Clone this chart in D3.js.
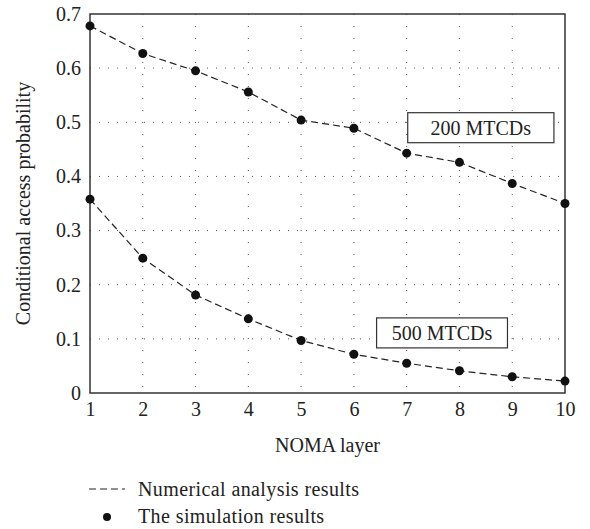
<!DOCTYPE html>
<html>
<head>
<meta charset="utf-8">
<script src="https://cdn.jsdelivr.net/npm/d3@7"></script>
<style>
  body { margin: 0; background: #fff; }
  svg text { font-family: 'Liberation Serif', 'Times New Roman', serif; fill: #222; }
</style>
</head>
<body>
<svg width="590" height="529"></svg>
<script>
const layers = [1, 2, 3, 4, 5, 6, 7, 8, 9, 10]
const mtcd200 = [0.678, 0.627, 0.595, 0.556, 0.504, 0.489, 0.443, 0.426, 0.387, 0.350]
const mtcd500 = [0.358, 0.249, 0.181, 0.137, 0.097, 0.0715, 0.055, 0.041, 0.030, 0.022]
const yTicks = [0, 0.1, 0.2, 0.3, 0.4, 0.5, 0.6, 0.7]
const seriesLabels = ['200 MTCDs', '500 MTCDs']
const legendLabels = ['Numerical analysis results', 'The simulation results']

const serif = "'Liberation Serif', 'Times New Roman', serif"
const fs = 20
const svg = d3.select('svg').attr('font-family', serif)

const margin = { left: 90, right: 25, top: 14, bottom: 136 }
const width = +svg.attr('width')
const height = +svg.attr('height')

const x = d3.scaleLinear().domain([1, 10]).range([margin.left, width - margin.right])
const y = d3.scaleLinear().domain([0, 0.7]).range([height - margin.bottom, margin.top])

// grid
const grid = svg.append('g')
grid.selectAll('.vg').data(layers.slice(1, -1)).join('line')
  .attr('x1', d => x(d)).attr('x2', d => x(d))
  .attr('y1', y(0.7)).attr('y2', y(0))
  .attr('stroke', '#555').attr('stroke-width', 1)
  .attr('stroke-dasharray', '1,11')
grid.selectAll('.hg').data(yTicks.slice(1, -1)).join('line')
  .attr('x1', x(1)).attr('x2', x(10))
  .attr('y1', d => y(d)).attr('y2', d => y(d))
  .attr('stroke', '#555').attr('stroke-width', 1)
  .attr('stroke-dasharray', '1,8')

// frame
svg.append('rect')
  .attr('x', x(1)).attr('y', y(0.7))
  .attr('width', x(10) - x(1)).attr('height', y(0) - y(0.7))
  .attr('fill', 'none').attr('stroke', '#333').attr('stroke-width', 1.5)

// axes
svg.append('g')
  .attr('transform', `translate(0, ${y(0)})`)
  .call(d3.axisBottom(x).tickValues(layers).tickFormat(d3.format('d')).tickSize(0).tickPadding(9))
svg.append('g')
  .attr('transform', `translate(${x(1)}, 0)`)
  .call(d3.axisLeft(y).tickValues(yTicks).tickFormat(d => d === 0 ? '0' : d3.format('.1f')(d)).tickSize(0).tickPadding(9))
svg.selectAll('.domain').remove()
svg.selectAll('.tick').attr('font-family', serif)
svg.selectAll('.tick text')
  .attr('font-family', serif)
  .attr('font-size', fs).attr('fill', '#222')

// lines
const line = d3.line().x((d, i) => x(layers[i])).y(d => y(d))
;[mtcd200, mtcd500].forEach(s => {
  svg.append('path')
    .attr('d', line(s))
    .attr('fill', 'none').attr('stroke', '#222').attr('stroke-width', 1.2)
    .attr('stroke-dasharray', '7,4')
  svg.append('g').selectAll('circle').data(s).join('circle')
    .attr('cx', (d, i) => x(layers[i])).attr('cy', d => y(d))
    .attr('r', 4.5).attr('fill', '#111')
})

// series boxes
const boxes = [
  { label: seriesLabels[0], x0: 7.02, x1: 9.79, yc: 0.49 },
  { label: seriesLabels[1], x0: 6.43, x1: 8.91, yc: 0.111 }
]
boxes.forEach(b => {
  const g = svg.append('g')
  g.append('rect')
    .attr('x', x(b.x0)).attr('y', y(b.yc) - 15)
    .attr('width', x(b.x1) - x(b.x0)).attr('height', 30)
    .attr('fill', '#fff').attr('stroke', '#333').attr('stroke-width', 1.2)
  g.append('text')
    .attr('x', (x(b.x0) + x(b.x1)) / 2).attr('y', y(b.yc) + 7)
    .attr('text-anchor', 'middle').attr('font-size', fs)
    .attr('font-family', serif)
    .text(b.label)
})

// axis titles
svg.append('text')
  .attr('transform', `translate(30, ${(y(0) + y(0.7)) / 2}) rotate(-90)`)
  .attr('text-anchor', 'middle').attr('font-size', fs)
  .attr('font-family', serif)
  .text('Conditional access probability')
svg.append('text')
  .attr('x', (x(1) + x(10)) / 2).attr('y', 452)
  .attr('text-anchor', 'middle').attr('font-size', fs)
  .attr('font-family', serif)
  .text('NOMA layer')

// legend
svg.append('line')
  .attr('x1', 89).attr('x2', 125).attr('y1', 489).attr('y2', 489)
  .attr('stroke', '#222').attr('stroke-width', 1.2).attr('stroke-dasharray', '7,4')
svg.append('text').attr('x', 138).attr('y', 496).attr('font-size', fs)
  .attr('letter-spacing', 0.4)
  .attr('font-family', serif).text(legendLabels[0])
svg.append('circle').attr('cx', 107).attr('cy', 517).attr('r', 4).attr('fill', '#111')
svg.append('text').attr('x', 138).attr('y', 523).attr('font-size', fs)
  .attr('letter-spacing', 0.4)
  .attr('font-family', serif).text(legendLabels[1])
</script>
</body>
</html>
